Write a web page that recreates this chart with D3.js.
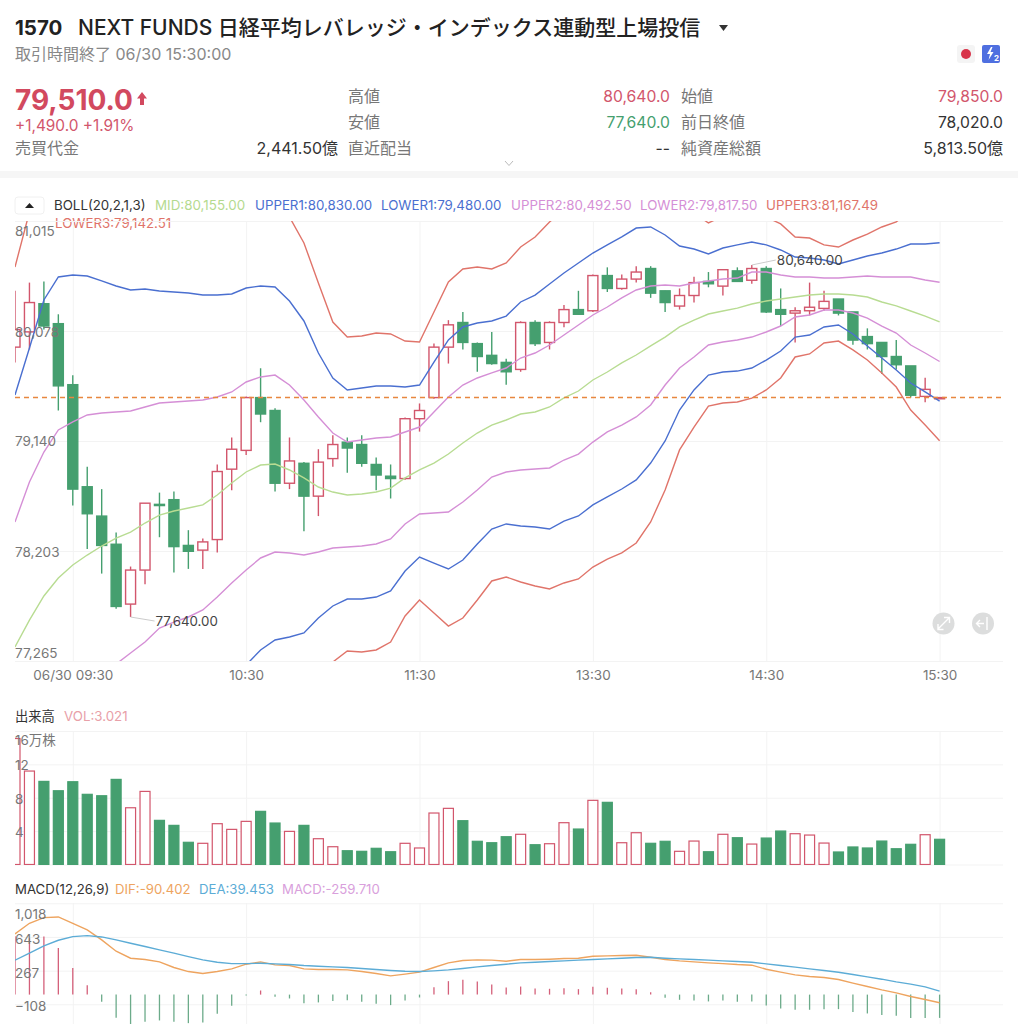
<!DOCTYPE html>
<html>
<head>
<meta charset="utf-8">
<script src="https://cdn.jsdelivr.net/npm/d3@7"></script>
<style>
  html, body { margin: 0; padding: 0; background: #fff; overflow: hidden; }
  svg { display: block; font-family: Inter, "Noto Sans CJK JP", sans-serif; }
</style>
</head>
<body>
<div id="chart"></div>
<script>
// candles, oldest first
const opens = [79940,80070,80310,80140,79620,78750,78500,78260,77750,78040,78600,78640,78250,78210,78300,78900,79060,79510,79400,78780,78950,78670,78990,79130,79110,78940,78840,78820,79330,79510,79940,80150,79970,79870,79810,79750,80150,79980,80150,80260,80250,80550,80440,80520,80610,80420,80290,80380,80500,80460,80590,80510,80610,80260,80230,80250,80270,80350,80240,80030,79980,79860,79780,79520,79510]
const highs = [80420,80490,80500,80220,79700,78920,78730,78360,78070,78610,78700,78710,78380,78310,78940,79170,79520,79760,79420,79170,78960,79070,79190,79170,79190,79000,78940,79340,79460,79970,80170,80240,79980,80070,79840,80160,80170,80160,80300,80420,80560,80620,80560,80630,80630,80420,80440,80540,80580,80600,80620,80640,80630,80440,80280,80490,80420,80350,80240,80100,79980,80000,79780,79680,79510]
const lows = [79810,79920,80090,79400,78590,78220,78010,77710,77640,77920,78320,78020,78050,78050,78190,78720,79020,79300,78710,78730,78370,78500,78920,78870,78920,78720,78650,78810,79220,79500,79800,79920,79730,79790,79620,79730,79950,79920,80110,80220,80240,80410,80430,80490,80360,80240,80260,80320,80450,80380,80500,80480,80230,80120,79980,80210,80250,80210,79960,79920,79710,79750,79510,79470,79510]
const closes = [80090,80320,80120,79610,78730,78520,78250,77730,78040,78610,78590,78240,78200,78280,78880,79070,79510,79370,78780,78970,78670,78960,79110,79080,78950,78850,78820,79330,79400,79940,80130,79980,79860,79800,79730,80150,79970,80150,80260,80220,80550,80440,80520,80580,80400,80320,80380,80490,80480,80600,80500,80610,80240,80220,80250,80280,80330,80230,80000,79970,79860,79790,79530,79580,79510]

// bollinger lines
const mid = [77384,77614,77819,77972,78083,78168,78245,78313,78364,78441,78509,78543,78569,78595,78680,78782,78876,78935,78944,78893,78825,78748,78705,78680,78688,78705,78739,78825,78893,78952,79029,79123,79208,79276,79319,79370,79387,79430,79507,79566,79660,79728,79805,79873,79950,80026,80112,80171,80222,80248,80273,80308,80333,80350,80367,80384,80393,80393,80384,80367,80325,80291,80248,80205,80155]
const upper1 = [79532,79933,80342,80538,80555,80546,80504,80461,80427,80435,80419,80410,80401,80384,80384,80393,80444,80461,80453,80333,80163,79890,79677,79575,79592,79609,79609,79600,79617,79813,80001,80112,80146,80163,80205,80325,80384,80478,80572,80657,80742,80811,80879,80955,80964,80896,80802,80776,80734,80785,80811,80836,80811,80768,80708,80700,80683,80649,80683,80717,80742,80776,80819,80819,80830]
const lower1 = [75236,75296,75296,75407,75611,75790,75987,76166,76302,76447,76600,76677,76737,76805,76975,77171,77231,77359,77444,77470,77504,77631,77734,77793,77793,77810,77862,78032,78151,78100,78049,78126,78262,78390,78433,78416,78407,78390,78458,78501,78595,78663,78731,78808,78952,79140,79404,79575,79702,79728,79736,79762,79830,79907,80026,80043,80112,80129,80052,79950,79847,79745,79634,79558,79480]
const upper2 = [78450,78791,79046,79234,79302,79362,79379,79387,79396,79430,79464,79472,79481,79490,79515,79558,79643,79686,79702,79617,79490,79345,79208,79131,79149,79166,79174,79217,79259,79387,79515,79617,79677,79720,79762,79847,79890,79958,80043,80129,80214,80282,80359,80427,80461,80470,80461,80487,80504,80521,80529,80580,80580,80555,80538,80538,80529,80529,80538,80546,80538,80538,80538,80512,80492.5]
const lower2 = [76319,76438,76592,76711,76864,76975,77112,77239,77333,77427,77546,77597,77640,77700,77810,77930,78041,78143,78194,78186,78168,78194,78228,78237,78245,78262,78305,78433,78518,78526,78535,78620,78722,78833,78876,78893,78901,78910,78978,79029,79131,79217,79276,79345,79447,79617,79762,79856,79958,79984,80001,80026,80069,80120,80197,80214,80256,80256,80231,80188,80120,80060,79958,79890,79817.5]
const upper3 = [80623,81092,81603,81825,81791,81740,81637,81535,81458,81433,81373,81347,81322,81279,81237,81194,81228,81228,81211,81049,80828,80487,80154,80026,80035,80060,80052,79992,79984,80239,80495,80606,80623,80606,80657,80793,80879,81007,81108,81203,81279,81356,81416,81501,81475,81356,81151,81083,80998,81058,81083,81100,81049,80990,80879,80870,80811,80793,80853,80904,80964,81007,81108,81126,81167.49]
const lower3 = [74146,74137,74035,74120,74376,74597,74853,75092,75271,75450,75646,75739,75816,75910,76123,76370,76523,76643,76677,76737,76822,77009,77256,77350,77342,77359,77427,77649,77785,77674,77563,77631,77785,77947,77981,77938,77904,77879,77930,77964,78066,78134,78186,78271,78450,78722,79064,79259,79438,79464,79472,79506,79575,79677,79856,79882,79975,79992,79916,79830,79720,79600,79404,79276,79142.51]

// volume in 万株
const volumes = [15.1,11.2,9.96,8.84,9.92,8.41,8.24,10.2,6.8,8.76,5.29,4.69,2.66,2.54,4.89,4.21,5.17,6.37,4.97,3.97,4.69,3.09,2.13,1.65,1.58,1.94,1.53,2.54,1.98,6.17,6.73,5.25,2.78,2.61,3.33,3.62,2.37,2.49,5.01,4.25,7.69,7.45,2.61,3.81,2.54,2.78,1.58,2.81,1.53,3.62,3.21,2.45,3.17,4.01,3.69,3.53,2.57,1.5,2.1,1.98,2.81,1.89,2.42,3.57,3.021]

// macd
const dif = [677,795,858,866,795,721,610,484,406,391,365,302,257,235,257,287,339,365,332,324,287,280,280,276,257,235,209,228,250,302,354,380,387,384,372,391,391,395,402,406,428,432,436,439,417,391,376,365,354,346,335,328,283,250,220,202,191,168,128,90,53,20,-21,-54,-90.402]
const dea = [384,462,543,606,647,658,643,610,573,536,499,462,424,387,361,346,346,350,343,335,324,317,309,302,291,280,269,261,257,265,276,291,309,324,339,354,361,369,376,384,391,398,406,413,417,406,398,391,384,376,369,361,343,324,306,287,269,250,224,198,172,142,117,87,39.453]
const hist = [650,628,647,521,298,105,-80,-258,-340,-303,-288,-303,-318,-310,-214,-125,-10,46,-25,-43,-95,-87,-70,-62,-80,-102,-117,-65,-32,83,150,165,146,113,79,90,68,65,72,61,87,76,68,61,27,-35,-58,-65,-76,-65,-80,-76,-121,-154,-169,-169,-162,-162,-195,-210,-228,-236,-262,-262,-259.71]

// axis ticks
const priceTicks = [77265,78203,79140,80078,81015]
const volTicks = [0,4,8,12,16]
const volTickLabels = ['', '4', '8', '12', '16万株']
const macdTicks = [-108,267,643,1018]
const timeTickIndex = [4,16,28,40,52,64]
const timeTickLabels = ['06/30 09:30','10:30','11:30','13:30','14:30','15:30']

const lastClose = 79510
const highPoint = { index: 51, value: 80640, label: '80,640.00' }
const lowPoint = { index: 8, value: 77640, label: '77,640.00' }

const width = 1018
const height = 1024
const left = 15
const right = 1003

const red = '#d2566c'
const green = '#459f6f'
const gridColor = '#f3f3f3'
const axisText = '#777'

const svg = d3.select('#chart').append('svg').attr('width', width).attr('height', height)

const x = d3.scaleLinear().domain([0, 64]).range([15, 939.6])
const y = d3.scaleLinear().domain([77265, 81015]).range([661, 221])
const yVol = d3.scaleLinear().domain([0, 16]).range([864.5, 731])
const yMacd = d3.scaleLinear().domain([-108, 1018]).range([1004.3, 903.3])

function addClip(id, top, bottom) {
  svg.append('clipPath').attr('id', id).append('rect')
    .attr('x', left).attr('y', top).attr('width', right - left).attr('height', bottom - top)
}
addClip('clip-price', 221, 661)
addClip('clip-vol', 731, 865)
addClip('clip-macd', 903, 1024)

function label(txt, px, py, color, size, opts) {
  opts = opts || {}
  return svg.append('text')
    .attr('x', px).attr('y', py)
    .attr('fill', color)
    .attr('font-size', size)
    .attr('font-weight', opts.weight || 400)
    .attr('text-anchor', opts.anchor || 'start')
    .attr('dominant-baseline', 'central')
    .text(txt)
}

// header
label('1570', 15, 27, '#222', 20.5, { weight: 700 })
label('NEXT FUNDS 日経平均レバレッジ・インデックス連動型上場投信', 78, 27, '#222', 21, { weight: 500 })
svg.append('path').attr('d', 'M719 25h9l-4.5 6z').attr('fill', '#333')
label('取引時間終了 06/30 15:30:00', 15, 54, '#888', 16)

svg.append('rect').attr('x', 957).attr('y', 45).attr('width', 18).attr('height', 18).attr('rx', 3).attr('fill', '#f4f4f4')
svg.append('circle').attr('cx', 966).attr('cy', 54).attr('r', 5).attr('fill', '#d8344a')
svg.append('rect').attr('x', 982).attr('y', 45).attr('width', 18).attr('height', 18).attr('rx', 2).attr('fill', '#4f6fe0')
svg.append('path').attr('d', 'M991 47l-4 7h3l-1.5 6 5-8h-3l2-5z').attr('fill', '#fff')
label('2', 994, 58, '#fff', 8, { weight: 700 })

label('79,510.0', 15, 100, '#d2495f', 28, { weight: 700 })
svg.append('path').attr('d', 'M142 92l5 6.5h-3v6.5h-4v-6.5h-3z').attr('fill', '#d2495f')
label('+1,490.0 +1.91%', 15, 125, '#d2566c', 15.4)
label('売買代金', 15, 148, '#777', 16)
label('2,441.50億', 338, 148, '#333', 16, { anchor: 'end' })

label('高値', 348, 96, '#777', 16)
label('80,640.0', 670, 96, '#d2566c', 15.7, { anchor: 'end' })
label('安値', 348, 122, '#777', 16)
label('77,640.0', 670, 122, '#459f6f', 15.7, { anchor: 'end' })
label('直近配当', 348, 148, '#777', 16)
label('--', 670, 148, '#333', 15.7, { anchor: 'end' })

label('始値', 681, 96, '#777', 16)
label('79,850.0', 1003, 96, '#d2566c', 15.7, { anchor: 'end' })
label('前日終値', 681, 122, '#777', 16)
label('78,020.0', 1003, 122, '#333', 15.7, { anchor: 'end' })
label('純資産総額', 681, 148, '#777', 16)
label('5,813.50億', 1003, 148, '#333', 16, { anchor: 'end' })

svg.append('path').attr('d', 'M505 161l4 4.5 4-4.5').attr('fill', 'none').attr('stroke', '#bbb').attr('stroke-width', 1)
svg.append('rect').attr('x', 0).attr('y', 171).attr('width', width).attr('height', 7).attr('fill', '#f6f6f6')

// boll legend
svg.append('rect').attr('x', 15).attr('y', 197).attr('width', 29).attr('height', 17).attr('rx', 3)
  .attr('fill', '#fff').attr('stroke', '#f0f0f0')
svg.append('path').attr('d', 'M25 208l4.5-5 4.5 5z').attr('fill', '#222')
label('BOLL(20,2,1,3)', 54, 205, '#333', 13.3)
label('MID:80,155.00', 155, 205, '#b5da8f', 13.4)
label('UPPER1:80,830.00', 255, 205, '#4a6fd0', 13.3)
label('LOWER1:79,480.00', 381, 205, '#4a6fd0', 13.3)
label('UPPER2:80,492.50', 511, 205, '#d58fd6', 13.3)
label('LOWER2:79,817.50', 640, 205, '#d58fd6', 13.3)
label('UPPER3:81,167.49', 766, 205, '#e0746a', 13.3)
label('LOWER3:79,142.51', 55, 223, '#e0746a', 13.3)

// grid lines come from the axes, labels are drawn later so they sit over the marks
function gridX(top, bottom) {
  svg.append('g')
    .attr('transform', `translate(0,${bottom})`)
    .call(d3.axisBottom(x).tickValues(timeTickIndex).tickSize(top - bottom).tickFormat(''))
    .call(g => g.select('.domain').remove())
    .call(g => g.selectAll('line').attr('stroke', gridColor))
}

function gridY(scale, ticks) {
  svg.append('g')
    .attr('transform', `translate(${left},0)`)
    .call(d3.axisRight(scale).tickValues(ticks).tickSize(right - left).tickFormat(''))
    .call(g => g.select('.domain').remove())
    .call(g => g.selectAll('line').attr('stroke', gridColor))
}

function yLabels(scale, ticks, format, offset) {
  svg.append('g')
    .attr('transform', `translate(${left},0)`)
    .call(d3.axisRight(scale).tickValues(ticks).tickSize(0).tickPadding(0).tickFormat(format))
    .call(g => g.select('.domain').remove())
    .call(g => g.selectAll('text')
      .attr('fill', axisText)
      .attr('font-size', 13.5)
      .attr('font-family', 'Inter, "Noto Sans CJK JP", sans-serif')
      .attr('dy', null)
      .attr('dominant-baseline', 'central')
      .attr('y', d => offset(d)))
}

gridX(221, 661)
gridY(y, priceTicks)
gridX(731, 864.5)
gridY(yVol, volTicks)
gridX(903, 1024)
gridY(yMacd, macdTicks)

// candles
const candleLayer = svg.append('g').attr('clip-path', 'url(#clip-price)')
const candles = candleLayer.selectAll('g').data(d3.range(opens.length)).enter().append('g')

candles.append('line')
  .attr('x1', i => x(i)).attr('x2', i => x(i))
  .attr('y1', i => y(highs[i])).attr('y2', i => y(lows[i]))
  .attr('stroke', i => closes[i] >= opens[i] ? red : green)
  .attr('stroke-width', 1.4)

candles.append('rect')
  .attr('x', i => x(i) - 5)
  .attr('width', 10)
  .attr('y', i => y(Math.max(opens[i], closes[i])))
  .attr('height', i => Math.max(Math.abs(y(opens[i]) - y(closes[i])), 1.2))
  .attr('fill', i => closes[i] >= opens[i] ? '#fff' : green)
  .attr('stroke', i => closes[i] >= opens[i] ? red : green)
  .attr('stroke-width', 1.4)

// bollinger
const bandLine = d3.line().x((d, i) => x(i)).y(d => y(d))
const lineLayer = svg.append('g').attr('clip-path', 'url(#clip-price)')
function band(values, color) {
  lineLayer.append('path').datum(values)
    .attr('fill', 'none').attr('stroke', color).attr('stroke-width', 1.4)
    .attr('d', bandLine)
}
band(upper3, '#e0746a')
band(lower3, '#e0746a')
band(upper2, '#d58fd6')
band(lower2, '#d58fd6')
band(upper1, '#4a6fd0')
band(lower1, '#4a6fd0')
band(mid, '#b8dc92')

// last price
svg.append('line')
  .attr('x1', left).attr('x2', right)
  .attr('y1', y(lastClose)).attr('y2', y(lastClose))
  .attr('stroke', '#e8873f').attr('stroke-width', 1.5).attr('stroke-dasharray', '5,4')

// high and low notes
svg.append('path').datum(highPoint)
  .attr('d', d => `M${x(d.index)} ${y(d.value)}L${x(d.index) + 24} ${y(d.value) - 5}`)
  .attr('fill', 'none').attr('stroke', '#ccc')
label(highPoint.label, x(highPoint.index) + 25, y(highPoint.value) - 5, '#444', 13.5)
svg.append('path').datum(lowPoint)
  .attr('d', d => `M${x(d.index)} ${y(d.value)}L${x(d.index) + 24} ${y(d.value) + 4}`)
  .attr('fill', 'none').attr('stroke', '#ccc')
label(lowPoint.label, x(lowPoint.index) + 25, y(lowPoint.value) + 4, '#444', 13.3)

yLabels(y, priceTicks, d3.format(','), d => d === 81015 ? 9 : (d === 77265 ? -9 : (d === 79140 ? -1 : 1)))

// time axis
svg.append('g')
  .attr('transform', 'translate(0,661)')
  .call(d3.axisBottom(x).tickValues(timeTickIndex).tickSize(0).tickPadding(9)
    .tickFormat(d => timeTickLabels[timeTickIndex.indexOf(d)]))
  .call(g => g.select('.domain').remove())
  .call(g => g.selectAll('text')
    .attr('fill', axisText).attr('font-size', 13.5)
    .attr('font-family', 'Inter, "Noto Sans CJK JP", sans-serif'))

// chart buttons
svg.append('circle').attr('cx', 943.5).attr('cy', 623.5).attr('r', 11).attr('fill', '#dcdddd')
svg.append('path').attr('d', 'M938 629l11-11M944 617.5h5.5v5.5M938 624v5.5h5.5').attr('fill', 'none').attr('stroke', '#fff').attr('stroke-width', 1.4)
svg.append('circle').attr('cx', 983).attr('cy', 623.5).attr('r', 11).attr('fill', '#dcdddd')
svg.append('path').attr('d', 'M987 617v13M984 623.5h-7M980 620l-3.5 3.5 3.5 3.5').attr('fill', 'none').attr('stroke', '#fff').attr('stroke-width', 1.4)

// volume
label('出来高', 15, 716, '#333', 13.3)
label('VOL:3.021', 64, 716, '#e8a0a8', 13.3)

svg.append('g').attr('clip-path', 'url(#clip-vol)')
  .selectAll('rect').data(volumes).enter().append('rect')
  .attr('x', (d, i) => x(i) - 5)
  .attr('width', 10)
  .attr('y', d => yVol(d))
  .attr('height', d => yVol(0) - yVol(d))
  .attr('fill', (d, i) => closes[i] > opens[i] ? '#fff' : green)
  .attr('stroke', (d, i) => closes[i] > opens[i] ? red : green)
  .attr('stroke-width', 1.2)

yLabels(yVol, volTicks.slice(1), d => volTickLabels[volTicks.indexOf(d)], d => d === 16 ? 8 : 0.5)

// macd
label('MACD(12,26,9)', 15, 889, '#333', 13.2)
label('DIF:-90.402', 115, 889, '#eea45f', 13.2)
label('DEA:39.453', 199, 889, '#5cacd6', 13.2)
label('MACD:-259.710', 282, 889, '#d9a0dc', 13.2)

const macdLayer = svg.append('g').attr('clip-path', 'url(#clip-macd)')
macdLayer.selectAll('line').data(hist).enter().append('line')
  .attr('x1', (d, i) => x(i)).attr('x2', (d, i) => x(i))
  .attr('y1', yMacd(0)).attr('y2', d => yMacd(d))
  .attr('stroke', d => d > 0 ? '#d4607a' : '#6cab8a')
  .attr('stroke-width', 1.3)

const macdLine = d3.line().x((d, i) => x(i)).y(d => yMacd(d))
macdLayer.append('path').datum(dif).attr('fill', 'none').attr('stroke', '#eea45f').attr('stroke-width', 1.4).attr('d', macdLine)
macdLayer.append('path').datum(dea).attr('fill', 'none').attr('stroke', '#5cacd6').attr('stroke-width', 1.4).attr('d', macdLine)

yLabels(yMacd, macdTicks, d3.format(','), d => d === 1018 ? 10 : (d === -108 ? 1 : 1.5))
</script>
</body>
</html>
